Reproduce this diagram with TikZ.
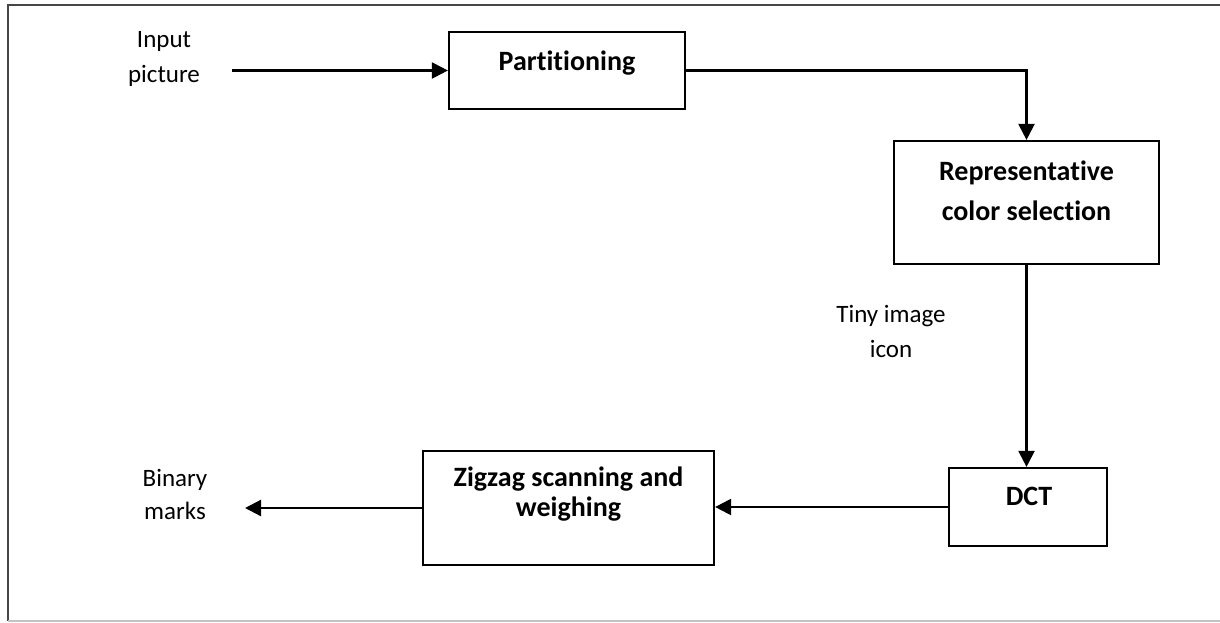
\documentclass[tikz,border=0pt]{standalone}
\usepackage{fontspec}
\setmainfont{Carlito}[Ligatures=CommonOff]
\usetikzlibrary{arrows.meta, positioning}
\definecolor{framedark}{RGB}{70, 70, 70}
\definecolor{framelight}{RGB}{195, 195, 195}
\tikzset{
  blk/.style     = {rectangle, draw=black, line width=1.1pt, inner sep=0pt, fill=white},
  blktxt/.style  = {align=center, inner sep=0pt, font=\bfseries\fontsize{14}{20}\selectfont},
  lbl/.style     = {align=center, inner sep=0pt, font=\fontsize{12.5}{17.5}\selectfont},
  flow/.style    = {-{Triangle[length=8pt, width=8pt]}, line width=1.1pt, black},
}
\begin{document}
\begin{tikzpicture}[x=0.5pt, y=-0.5pt]

\useasboundingbox (0,0) rectangle (1220,622);

% === outer frame (right side cut off) ===
\draw[framedark, line width=1.1pt] (1220,5) -- (8,5) -- (8,621);
\draw[framelight, line width=1pt] (8,621) -- (1220,621);

% === blocks ===
\node[blk, minimum width=118pt, minimum height=38.5pt] (part) at (567,70.5) {};
\node[blk, minimum width=132.5pt, minimum height=61.5pt] (rep) at (1026.5,202.5) {};
\node[blk, minimum width=79pt, minimum height=39pt] (dct) at (1028,507) {};
\node[blk, minimum width=145.5pt, minimum height=57pt] (zig) at (568.5,508) {};

% block texts (sit in the upper part of each box)
\node[blktxt] (parttxt) at (567,63.5) {Partitioning};
\node[blktxt] (reptxt) at (1026.5,191) {Representative\\color selection};
\node[blktxt] (dcttxt) at (1029,496) {DCT};
\node[blktxt, font=\bfseries\fontsize{14}{15}\selectfont] (zigtxt) at (568.5,494) {Zigzag scanning and\\weighing};

% === side labels ===
\node[lbl] (input) at (164,58.5) {Input\\picture};
\node[lbl] (tiny) at (891,331) {Tiny image\\icon};
\node[lbl, font=\fontsize{12.5}{16.5}\selectfont] (binary) at (175,494.5) {Binary\\marks};

% === connectors ===
\coordinate (inpt) at (232,70.5);
\coordinate (outpt) at (245,508);
\draw[flow] (inpt) -- (part.west);
\draw[flow] (part.east) -| (rep.north);
\draw[flow] (rep.south) -- (rep.south |- dct.north);
\draw[flow] (dct.west) -- (dct.west -| zig.east);
\draw[flow] (zig.west) -- (outpt);

\end{tikzpicture}
\end{document}
